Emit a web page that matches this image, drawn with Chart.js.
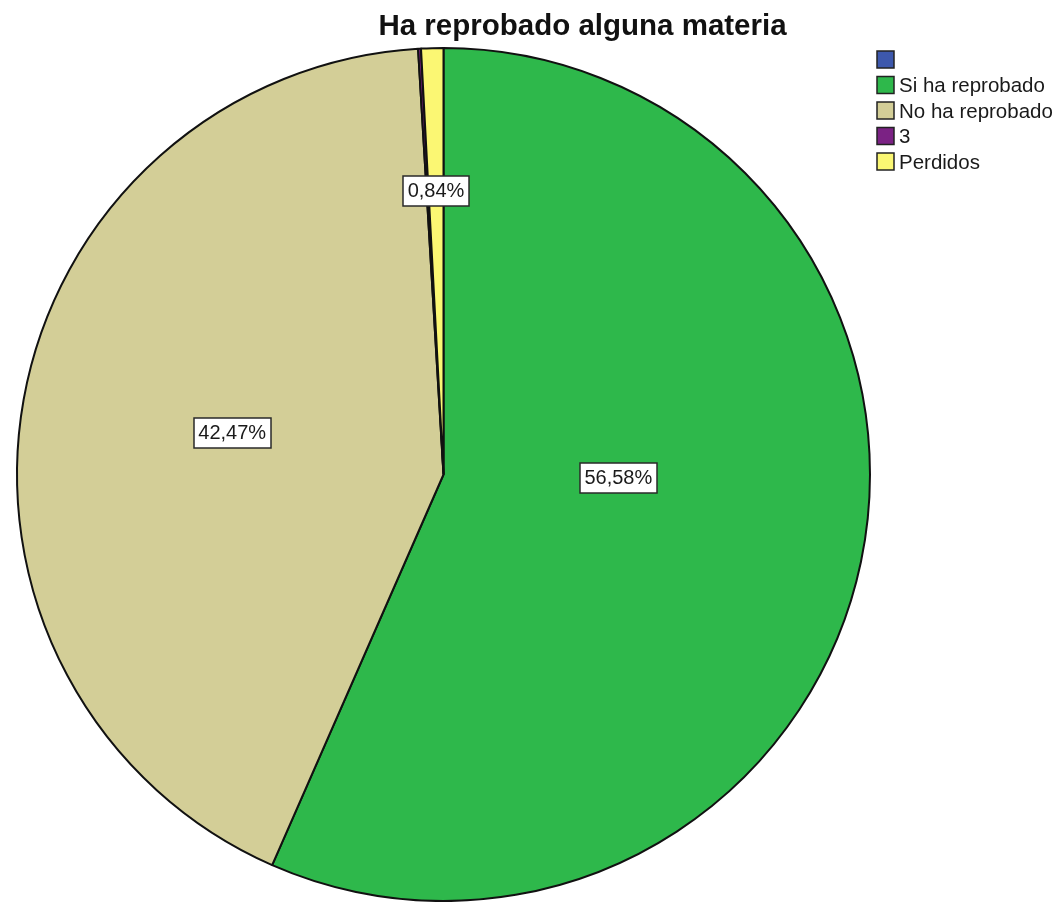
<!DOCTYPE html>
<html>
<head>
<meta charset="utf-8">
<script src="https://cdn.jsdelivr.net/npm/chart.js@4/dist/chart.umd.min.js"></script>
<style>
html,body{margin:0;padding:0;background:#fff;}
#wrap{position:relative;width:1059px;height:902px;}
</style>
</head>
<body>
<div id="wrap"><canvas id="c" width="1059" height="902"></canvas></div>
<script>
// ---- data ----
const chartTitle = "Ha reprobado alguna materia";
const categories = ["", "Si ha reprobado", "No ha reprobado", "3", "Perdidos"];
const percentages = [0, 56.58, 42.47, 0.11, 0.84];
const sliceColors = ["#3d58ac", "#2eb84b", "#d3ce97", "#7b2284", "#fbf773"];

// label placement (fraction of radius, angle shift in degrees from slice middle)
const labelRadiusFrac = [0, 0.41, 0.505, 0, 0.665];
const labelAngleShift = [0, -10.8, 1.0, 0, 0];
const minLabelValue = 0.5;

const FONT = "'Liberation Sans', Arial, sans-serif";

function fmt(v){ return v.toFixed(2).replace('.', ',') + '%'; }

const overlayPlugin = {
  id: 'overlay',
  afterDraw(chart){
    const ctx = chart.ctx;
    const meta = chart.getDatasetMeta(0);
    ctx.save();
    // data labels
    ctx.font = "20px " + FONT;
    ctx.textBaseline = 'middle';
    ctx.textAlign = 'center';
    meta.data.forEach((arc, i) => {
      const v = percentages[i];
      if (v < minLabelValue) return;
      const p = arc.getProps(['x','y','startAngle','endAngle','outerRadius']);
      const mid = (p.startAngle + p.endAngle) / 2 + labelAngleShift[i] * Math.PI / 180;
      const r = p.outerRadius * labelRadiusFrac[i];
      const x = p.x + Math.cos(mid) * r;
      const y = p.y + Math.sin(mid) * r;
      const txt = fmt(v);
      const w = ctx.measureText(txt).width + 9;
      const h = 30;
      ctx.fillStyle = '#ffffff';
      ctx.fillRect(Math.round(x - w/2), Math.round(y - h/2), Math.round(w), h);
      ctx.strokeStyle = '#2a2a2a';
      ctx.lineWidth = 1.5;
      ctx.strokeRect(Math.round(x - w/2), Math.round(y - h/2), Math.round(w), h);
      ctx.fillStyle = '#1a1a1a';
      ctx.fillText(txt, x, y + 1);
    });
    // title
    ctx.font = "bold 29.5px " + FONT;
    ctx.textAlign = 'center';
    ctx.textBaseline = 'alphabetic';
    ctx.fillStyle = '#111';
    ctx.fillText(chartTitle, 582.5, 35);
    // legend
    ctx.font = "20.5px " + FONT;
    ctx.textAlign = 'left';
    ctx.textBaseline = 'middle';
    categories.forEach((lab, i) => {
      const cy = 60 + i * 25.5;
      ctx.fillStyle = sliceColors[i];
      ctx.fillRect(877, cy - 9, 17, 17);
      ctx.strokeStyle = '#222';
      ctx.lineWidth = 1.5;
      ctx.strokeRect(877, cy - 9, 17, 17);
      ctx.fillStyle = '#1a1a1a';
      ctx.fillText(lab, 899, cy + 1);
    });
    ctx.restore();
  }
};

new Chart(document.getElementById('c'), {
  type: 'pie',
  data: {
    labels: categories,
    datasets: [{
      data: percentages,
      backgroundColor: sliceColors,
      borderColor: '#111',
      borderWidth: 2,
      borderAlign: 'center'
    }]
  },
  options: {
    responsive: false,
    animation: false,
    devicePixelRatio: 1,
    layout: { padding: { left: 15, top: 47, right: 187, bottom: 0 } },
    plugins: {
      legend: { display: false },
      title: { display: false },
      tooltip: { enabled: false }
    }
  },
  plugins: [overlayPlugin]
});
</script>
</body>
</html>
